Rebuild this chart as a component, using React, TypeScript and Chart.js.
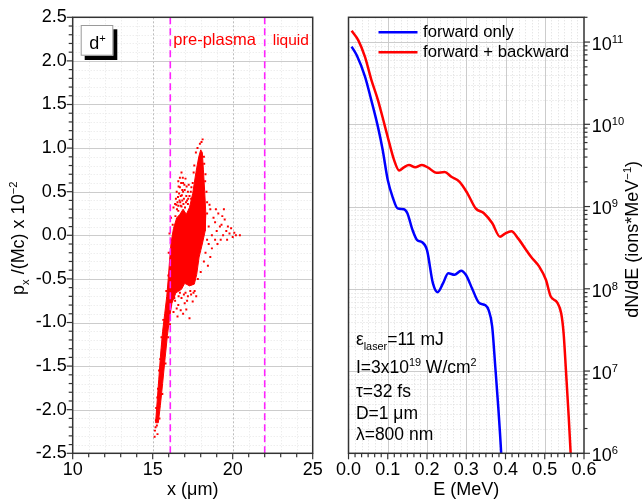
import React, { useEffect, useRef } from 'react';
import { Chart, registerables } from 'chart.js';

Chart.register(...registerables);

const FAMILY = "'Liberation Sans', Arial, Helvetica, sans-serif";

// ---------------- Left panel: d+ phase space ----------------
const xRangeUm = [10, 25];
const pxRange = [-2.5, 2.5];
const regionBoundariesUm = [16.1, 22.0];
const regionLabels = ['pre-plasma', 'liquid'];

// outline of the dense (saturated) part of the particle cloud
const coreOutline: [number, number][] = [
  [15.18, -2.15], [15.28, -1.9], [15.38, -1.65], [15.5, -1.35], [15.62, -1.1], [15.75, -0.9],
  [15.88, -0.7], [15.97, -0.5], [16.05, -0.3], [16.15, -0.08], [16.3, 0.08], [16.5, 0.2],
  [16.7, 0.24], [16.9, 0.3], [17.1, 0.24], [17.3, 0.32], [17.5, 0.48], [17.7, 0.72], [17.88, 0.9],
  [18.0, 0.98], [18.1, 0.95], [18.17, 0.75], [18.25, 0.5], [18.32, 0.25], [18.28, 0.05],
  [18.1, -0.1], [17.9, -0.25], [17.75, -0.45], [17.6, -0.56], [17.3, -0.58], [17.0, -0.55],
  [16.8, -0.62], [16.45, -0.66], [16.2, -0.78], [16.05, -0.95], [15.92, -1.15], [15.78, -1.4],
  [15.62, -1.7], [15.48, -1.95], [15.35, -2.15], [15.18, -2.15],
];

const bandParticles: [number, number][] = [
  [15.12, -2.31], [15.14, -2.24], [15.2, -2.12], [15.26, -2.18], [15.31, -2.04], [15.22, -1.98],
  [15.29, -1.86], [15.42, -1.92], [15.33, -1.76], [15.46, -1.62], [15.4, -1.55], [15.56, -1.52],
  [15.47, -1.42], [15.6, -1.27], [15.55, -1.17], [15.7, -1.12], [15.66, -0.97], [15.82, -0.92],
  [15.9, -0.72], [15.85, -0.64], [16.08, -1.02], [15.97, -1.17], [15.8, -1.47], [15.6, -1.82],
  [15.42, -2.1], [15.3, -2.28], [15.18, -2.2], [15.5, -1.75], [15.72, -1.3],
];

const bodyParticles: [number, number][] = [
  [16.0, -0.2], [16.05, 0.02], [16.14, 0.2], [16.3, 0.32], [16.08, -0.42], [15.98, -0.46],
  [16.4, -0.75], [16.6, -0.8], [16.8, -0.72], [17.0, -0.78], [17.2, -0.7], [17.4, -0.68],
  [17.62, -0.64], [16.9, -0.9], [17.1, -0.85], [17.3, -0.95], [16.55, -0.93], [16.3, -0.88],
  [17.5, -0.76], [17.82, -0.5], [17.72, -0.7], [16.7, -0.66], [17.05, -0.66], [16.25, 0.12],
  [16.42, 0.22], [16.6, 0.28], [16.8, 0.33], [17.02, 0.32], [17.2, 0.36], [17.4, 0.42],
  [16.35, -0.72], [16.62, -0.7], [16.95, -0.68], [17.35, -0.64], [17.55, -0.66], [16.5, -0.84],
  [17.15, -0.75], [16.75, -0.86],
];

const lobeParticles: [number, number][] = [
  [16.5, 0.5], [16.6, 0.62], [16.7, 0.55], [16.8, 0.72], [16.75, 0.45], [16.9, 0.6],
  [17.0, 0.52], [16.55, 0.38], [16.65, 0.48], [17.1, 0.45], [16.85, 0.52], [16.45, 0.42],
  [17.05, 0.65], [16.95, 0.42], [16.7, 0.66], [17.2, 0.5], [16.6, 0.34], [16.85, 0.4],
  [17.3, 0.45], [16.4, 0.36], [16.78, 0.6], [16.98, 0.58], [16.72, 0.38], [17.15, 0.4],
  [16.52, 0.3], [16.92, 0.36], [17.25, 0.58], [16.58, 0.44], [16.68, 0.4], [16.82, 0.46],
  [16.9, 0.5], [17.08, 0.38], [17.22, 0.42], [16.62, 0.56], [16.48, 0.35], [16.88, 0.66],
  [17.12, 0.56], [16.75, 0.34], [17.38, 0.5],
];

const spikeParticles: [number, number][] = [
  [17.6, 0.8], [17.7, 0.95], [17.8, 1.0], [17.95, 1.05], [18.12, 1.1], [18.2, 0.9],
  [18.3, 0.7], [18.36, 0.5], [17.5, 0.6], [17.56, 0.72], [17.9, 0.86], [18.05, 1.07],
  [18.28, 0.62], [17.42, 0.55], [18.22, 0.82], [18.4, 0.38],
];

const tailParticles: [number, number][] = [
  [18.4, 0.25], [18.5, 0.1], [18.6, 0.3], [18.7, 0.0], [18.8, 0.2], [18.9, 0.15], [19.0, 0.05],
  [19.1, 0.25], [19.2, 0.1], [19.3, 0.12], [19.4, 0.0], [19.5, 0.18], [19.6, 0.05], [19.7, 0.1],
  [19.8, 0.02], [19.9, 0.08], [20.0, -0.02], [20.1, 0.03], [20.2, 0.0], [20.45, 0.0], [19.45, 0.3],
  [18.5, -0.1], [18.6, -0.25], [18.45, -0.35], [18.7, -0.15], [18.9, -0.05], [19.05, -0.1],
  [18.4, -0.05], [18.55, 0.35], [18.3, -0.2], [19.25, -0.05], [19.65, -0.05], [18.95, 0.3],
  [19.35, 0.22], [18.2, -0.3], [18.0, -0.42],
];

// ---------------- Right panel: energy spectra ----------------
const energyRange = [0, 0.6];
const dNdERange = [1e6, 2e11];
const decadeExponents = [6, 7, 8, 9, 10, 11];
const seriesNames = ['forward only', 'forward + backward'];

const forwardOnlyE = [
  0.008, 0.021, 0.042, 0.058, 0.075, 0.087, 0.1, 0.112, 0.125, 0.141, 0.15, 0.163, 0.175, 0.187,
  0.2, 0.215, 0.227, 0.241, 0.254, 0.27, 0.287, 0.299, 0.316, 0.332, 0.349, 0.357, 0.366, 0.374,
  0.382, 0.389, 0.393,
];
const forwardOnly = [
  8.8e10, 6.9e10, 3.8e10, 1.97e10, 9.3e9, 4.9e9, 2.1e9, 1.32e9, 9.5e8, 9.3e8, 8.3e8, 5.2e8, 3.9e8,
  3.7e8, 2.95e8, 1.17e8, 9.1e7, 1.17e8, 1.55e8, 1.48e8, 1.66e8, 1.48e8, 9.8e7, 6.8e7, 6.3e7, 5.5e7,
  3.5e7, 1.12e7, 3.4e6, 1.0e6, 4e5,
];

const forwardBackE = [
  0.008, 0.025, 0.042, 0.058, 0.075, 0.091, 0.104, 0.116, 0.129, 0.141, 0.154, 0.17, 0.187, 0.204,
  0.224, 0.245, 0.262, 0.283, 0.303, 0.324, 0.345, 0.366, 0.386, 0.399, 0.415, 0.432, 0.453, 0.465,
  0.486, 0.503, 0.515, 0.532, 0.542, 0.548, 0.554, 0.561, 0.566, 0.57,
];
const forwardBack = [
  1.37e11, 1.05e11, 6.6e10, 3.5e10, 1.97e10, 1.02e10, 5.9e9, 3.7e9, 2.75e9, 3.0e9, 3.2e9, 3.0e9,
  3.2e9, 2.95e9, 2.57e9, 2.63e9, 2.3e9, 2.0e9, 1.45e9, 9.5e8, 8.3e8, 6.3e8, 4.3e8, 4.7e8, 5.0e8,
  4.1e8, 2.95e8, 2.45e8, 1.86e8, 1.29e8, 8.1e7, 6.8e7, 5.0e7, 2.9e7, 1.02e7, 2.8e6, 1.0e6, 4e5,
];

// ---------------- rich text helpers ----------------
type Seg = { t: string; k?: 'sub' | 'sup' };

function segSize(size: number, s: Seg) {
  return s.k ? size * 0.62 : size;
}
function richWidth(ctx: CanvasRenderingContext2D, segs: Seg[], size: number) {
  let w = 0;
  for (const s of segs) {
    ctx.font = `${segSize(size, s)}px ${FAMILY}`;
    w += ctx.measureText(s.t).width;
  }
  return w;
}
function drawRich(ctx: CanvasRenderingContext2D, segs: Seg[], x: number, y: number, size: number, color: string) {
  ctx.fillStyle = color;
  ctx.textAlign = 'left';
  ctx.textBaseline = 'alphabetic';
  let cx = x;
  for (const s of segs) {
    ctx.font = `${segSize(size, s)}px ${FAMILY}`;
    const dy = s.k === 'sup' ? -size * 0.39 : s.k === 'sub' ? size * 0.29 : 0;
    ctx.fillText(s.t, cx, y + dy);
    cx += ctx.measureText(s.t).width;
  }
}
function drawRotatedRich(ctx: CanvasRenderingContext2D, segs: Seg[], bx: number, cy: number, size: number) {
  const w = richWidth(ctx, segs, size);
  ctx.save();
  ctx.translate(bx, cy);
  ctx.rotate(-Math.PI / 2);
  drawRich(ctx, segs, -w / 2, 0, size, '#000');
  ctx.restore();
}

function snap(v: number) {
  return Math.round(v) + 0.5;
}
function vLine(ctx: CanvasRenderingContext2D, x: number, y1: number, y2: number) {
  ctx.beginPath();
  ctx.moveTo(snap(x), y1);
  ctx.lineTo(snap(x), y2);
  ctx.stroke();
}
function hLine(ctx: CanvasRenderingContext2D, y: number, x1: number, x2: number) {
  ctx.beginPath();
  ctx.moveTo(x1, snap(y));
  ctx.lineTo(x2, snap(y));
  ctx.stroke();
}

const AXIS_COLOR = '#333333';
const MAJOR_GRID = '#cccccc';
const MINOR_GRID = '#dcdcdc';

// ---------------- plugins ----------------
const leftDecor = {
  id: 'leftDecor',
  beforeDatasetsDraw(chart: any) {
    const { ctx, chartArea: a } = chart;
    const xs = chart.scales.x;
    const ys = chart.scales.y;
    ctx.save();
    ctx.lineWidth = 1;
    ctx.strokeStyle = '#e6e6e6';
    ctx.setLineDash([1, 2]);
    for (let v = 11; v < 25; v++) if (v % 5 !== 0) vLine(ctx, xs.getPixelForValue(v), a.top, a.bottom);
    for (let i = -24; i < 25; i++) if (i % 5 !== 0) hLine(ctx, ys.getPixelForValue(i / 10), a.left, a.right);
    ctx.strokeStyle = '#bdbdbd';
    ctx.setLineDash([2, 2]);
    [15, 20].forEach((v) => vLine(ctx, xs.getPixelForValue(v), a.top, a.bottom));
    ctx.setLineDash([]);
    ctx.strokeStyle = MAJOR_GRID;
    for (let i = -4; i <= 4; i++) hLine(ctx, ys.getPixelForValue(i / 2), a.left, a.right);
    ctx.restore();
  },
  afterDatasetsDraw(chart: any) {
    const { ctx, chartArea: a } = chart;
    const xs = chart.scales.x;
    const ys = chart.scales.y;
    ctx.save();
    // frame
    ctx.strokeStyle = AXIS_COLOR;
    ctx.lineWidth = 1.5;
    ctx.strokeRect(a.left, a.top, a.right - a.left, a.bottom - a.top);
    // ticks
    ctx.lineWidth = 1.2;
    for (let v = 10; v <= 25; v++) {
      const len = v % 5 === 0 ? 6 : 4;
      const px = xs.getPixelForValue(v);
      ctx.beginPath();
      ctx.moveTo(px, a.bottom);
      ctx.lineTo(px, a.bottom + len);
      ctx.stroke();
    }
    for (let i = -25; i <= 25; i++) {
      const len = i % 5 === 0 ? 6 : 4;
      const py = ys.getPixelForValue(i / 10);
      ctx.beginPath();
      ctx.moveTo(a.left, py);
      ctx.lineTo(a.left - len, py);
      ctx.stroke();
    }
    // d+ label box
    const bx = a.left + 8, by = a.top + 7.7, bw = 32.6, bh = 30.7;
    ctx.fillStyle = '#000';
    ctx.fillRect(bx + 4, by + 4.3, bw, bh);
    ctx.fillStyle = '#fff';
    ctx.fillRect(bx, by, bw, bh);
    ctx.strokeStyle = '#9a9a9a';
    ctx.lineWidth = 1;
    ctx.strokeRect(bx + 0.5, by + 0.5, bw - 1, bh - 1);
    drawRich(ctx, [{ t: 'd' }, { t: '+', k: 'sup' }], bx + 8.6, by + 24.3, 18, '#000');
    // region labels
    ctx.font = `16.5px ${FAMILY}`;
    ctx.fillStyle = '#ff0000';
    ctx.textAlign = 'left';
    ctx.textBaseline = 'alphabetic';
    ctx.fillText(regionLabels[0], xs.getPixelForValue(regionBoundariesUm[0]) + 3, a.top + 27.7);
    ctx.font = `15.5px ${FAMILY}`;
    ctx.fillText(regionLabels[1], xs.getPixelForValue(regionBoundariesUm[1]) + 8, a.top + 27.7);
    // y title
    drawRotatedRich(
      ctx,
      [{ t: 'p' }, { t: 'x', k: 'sub' }, { t: ' /(Mc) x 10' }, { t: '\u22122', k: 'sup' }],
      24,
      (a.top + a.bottom) / 2 + 3,
      18,
    );
    ctx.restore();
  },
};

const rightDecor = {
  id: 'rightDecor',
  beforeDatasetsDraw(chart: any) {
    const { ctx, chartArea: a } = chart;
    const xs = chart.scales.x;
    const ys = chart.scales.y;
    ctx.save();
    ctx.lineWidth = 1;
    ctx.strokeStyle = MINOR_GRID;
    ctx.setLineDash([1, 2]);
    for (let i = 1; i < 36; i++) if (i % 6 !== 0) vLine(ctx, xs.getPixelForValue(i / 60), a.top, a.bottom);
    for (const e of decadeExponents) {
      for (let m = 2; m <= 9; m++) {
        const v = m * Math.pow(10, e);
        if (v < dNdERange[1]) hLine(ctx, ys.getPixelForValue(v), a.left, a.right);
      }
    }
    ctx.setLineDash([]);
    ctx.strokeStyle = MAJOR_GRID;
    for (let i = 1; i < 6; i++) vLine(ctx, xs.getPixelForValue(i / 10), a.top, a.bottom);
    for (const e of decadeExponents) if (e > 6) hLine(ctx, ys.getPixelForValue(Math.pow(10, e)), a.left, a.right);
    ctx.restore();
  },
  afterDatasetsDraw(chart: any) {
    const { ctx, chartArea: a } = chart;
    const xs = chart.scales.x;
    const ys = chart.scales.y;
    ctx.save();
    ctx.strokeStyle = AXIS_COLOR;
    ctx.lineWidth = 1.5;
    ctx.strokeRect(a.left, a.top, a.right - a.left, a.bottom - a.top);
    ctx.lineWidth = 1.2;
    for (let i = 0; i <= 36; i++) {
      const len = i % 6 === 0 ? 6 : 4;
      const px = xs.getPixelForValue(i / 60);
      ctx.beginPath();
      ctx.moveTo(px, a.bottom);
      ctx.lineTo(px, a.bottom + len);
      ctx.stroke();
    }
    for (const e of decadeExponents) {
      for (let m = 1; m <= 9; m++) {
        const v = m * Math.pow(10, e);
        if (v > dNdERange[1]) continue;
        const py = ys.getPixelForValue(v);
        const len = m === 1 ? 6 : 3.5;
        ctx.beginPath();
        ctx.moveTo(a.right, py);
        ctx.lineTo(a.right + len, py);
        ctx.stroke();
      }
    }
    // decade labels
    for (const e of decadeExponents) {
      const py = ys.getPixelForValue(Math.pow(10, e));
      drawRich(ctx, [{ t: '10' }, { t: String(e), k: 'sup' }], a.right + 7.7, py + 7.8, 18, '#000');
    }
    // y title
    drawRotatedRich(
      ctx,
      [{ t: 'dN/dE (ions*MeV' }, { t: '\u22121', k: 'sup' }, { t: ')' }],
      a.right + 54,
      (a.top + a.bottom) / 2 + 4,
      18,
    );
    // legend
    const legendColors = ['#0000ff', '#ff0000'];
    seriesNames.forEach((name, i) => {
      const ly = a.top + 15 + i * 20;
      ctx.strokeStyle = legendColors[i];
      ctx.lineWidth = 2.5;
      ctx.beginPath();
      ctx.moveTo(a.left + 30, ly);
      ctx.lineTo(a.left + 69, ly);
      ctx.stroke();
      ctx.fillStyle = '#000';
      ctx.font = `16.7px ${FAMILY}`;
      ctx.textAlign = 'left';
      ctx.textBaseline = 'middle';
      ctx.fillText(name, a.left + 74.5, ly);
    });
    // parameter annotations
    const tx = a.left + 7.4;
    const fs = 17.5;
    drawRich(ctx, [{ t: '\u03b5' }, { t: 'laser', k: 'sub' }, { t: '=11 mJ' }], tx, 345, fs, '#000');
    drawRich(ctx, [{ t: 'I=3x10' }, { t: '19', k: 'sup' }, { t: ' W/cm' }, { t: '2', k: 'sup' }], tx, 373.3, fs, '#000');
    drawRich(ctx, [{ t: '\u03c4=32 fs' }], tx, 396.7, fs, '#000');
    drawRich(ctx, [{ t: 'D=1 \u03bcm' }], tx, 419, fs, '#000');
    drawRich(ctx, [{ t: '\u03bb=800 nm' }], tx, 439.5, fs, '#000');
    ctx.restore();
  },
};

const toXY = (pts: [number, number][]) => pts.map(([x, y]) => ({ x, y }));

function leftConfig(): any {
  const particles = [...bandParticles, ...bodyParticles, ...lobeParticles, ...spikeParticles, ...tailParticles];
  return {
    type: 'scatter',
    data: {
      datasets: [
        ...regionBoundariesUm.map((b) => ({
          type: 'line',
          data: [{ x: b, y: pxRange[0] }, { x: b, y: pxRange[1] }],
          borderColor: '#ff22ff',
          borderWidth: 1.6,
          borderDash: [7, 4],
          pointRadius: 0,
          fill: false,
          order: 1,
        })),
        {
          type: 'scatter',
          data: toXY(particles),
          backgroundColor: '#ff0000',
          borderWidth: 0,
          pointStyle: 'rect',
          pointRadius: 1.4,
          order: 2,
        },
        {
          type: 'line',
          data: toXY(coreOutline),
          borderColor: '#ff0000',
          backgroundColor: '#ff0000',
          borderWidth: 1,
          pointRadius: 0,
          tension: 0,
          fill: 'shape',
          order: 3,
        },
      ],
    },
    options: {
      responsive: false,
      animation: false,
      devicePixelRatio: 1,
      events: [],
      layout: { padding: { left: 0, right: 17.3, top: 17.3, bottom: 0 } },
      plugins: { legend: { display: false }, tooltip: { enabled: false } },
      scales: {
        x: {
          type: 'linear',
          min: xRangeUm[0],
          max: xRangeUm[1],
          grid: { display: false, drawTicks: false },
          border: { display: false },
          ticks: {
            stepSize: 5,
            autoSkip: false,
            maxRotation: 0,
            color: '#000',
            padding: 6,
            font: { family: FAMILY, size: 18 },
            callback: (v: any) => String(v),
          },
          title: {
            display: true,
            text: 'x (\u03bcm)',
            color: '#000',
            font: { family: FAMILY, size: 18 },
            padding: { top: 0, bottom: 1 },
          },
          afterFit: (s: any) => {
            s.height = 48.7;
          },
        },
        y: {
          type: 'linear',
          min: pxRange[0],
          max: pxRange[1],
          grid: { display: false, drawTicks: false },
          border: { display: false },
          ticks: {
            stepSize: 0.5,
            autoSkip: false,
            color: '#000',
            padding: 6,
            font: { family: FAMILY, size: 18 },
            callback: (v: any) => Number(v).toFixed(1),
          },
          afterFit: (s: any) => {
            s.width = 72.7;
          },
        },
      },
    },
    plugins: [leftDecor],
  };
}

function rightConfig(): any {
  return {
    type: 'line',
    data: {
      datasets: [
        {
          label: seriesNames[0],
          data: forwardOnlyE.map((e, i) => ({ x: e, y: forwardOnly[i] })),
          borderColor: '#0000ff',
          borderWidth: 2.5,
          pointRadius: 0,
          cubicInterpolationMode: 'monotone',
          fill: false,
        },
        {
          label: seriesNames[1],
          data: forwardBackE.map((e, i) => ({ x: e, y: forwardBack[i] })),
          borderColor: '#ff0000',
          borderWidth: 2.5,
          pointRadius: 0,
          cubicInterpolationMode: 'monotone',
          fill: false,
        },
      ],
    },
    options: {
      responsive: false,
      animation: false,
      devicePixelRatio: 1,
      events: [],
      layout: { padding: { left: 13.3, right: 0, top: 17.3, bottom: 0 } },
      plugins: { legend: { display: false }, tooltip: { enabled: false } },
      scales: {
        x: {
          type: 'linear',
          min: energyRange[0],
          max: energyRange[1],
          grid: { display: false, drawTicks: false },
          border: { display: false },
          ticks: {
            stepSize: 0.1,
            autoSkip: false,
            maxRotation: 0,
            color: '#000',
            padding: 6,
            font: { family: FAMILY, size: 18 },
            callback: (v: any) => Number(v).toFixed(1),
          },
          title: {
            display: true,
            text: 'E (MeV)',
            color: '#000',
            font: { family: FAMILY, size: 18 },
            padding: { top: 0, bottom: 1 },
          },
          afterFit: (s: any) => {
            s.height = 48.7;
          },
        },
        y: {
          type: 'logarithmic',
          position: 'right',
          min: dNdERange[0],
          max: dNdERange[1],
          grid: { display: false, drawTicks: false },
          border: { display: false },
          ticks: { display: false },
          afterFit: (s: any) => {
            s.width = 60;
          },
        },
      },
    },
    plugins: [rightDecor],
  };
}

export default function App() {
  const leftRef = useRef<HTMLCanvasElement>(null);
  const rightRef = useRef<HTMLCanvasElement>(null);
  useEffect(() => {
    const c1 = new Chart(leftRef.current as HTMLCanvasElement, leftConfig());
    const c2 = new Chart(rightRef.current as HTMLCanvasElement, rightConfig());
    return () => {
      c1.destroy();
      c2.destroy();
    };
  }, []);
  return (
    <div style={{ position: 'fixed', left: 0, top: 0, width: 644, height: 502, background: '#fff' }}>
      <canvas
        ref={leftRef}
        width={330}
        height={502}
        style={{ position: 'absolute', left: 0, top: 0, width: 330, height: 502 }}
      />
      <canvas
        ref={rightRef}
        width={314}
        height={502}
        style={{ position: 'absolute', left: 330, top: 0, width: 314, height: 502 }}
      />
    </div>
  );
}
